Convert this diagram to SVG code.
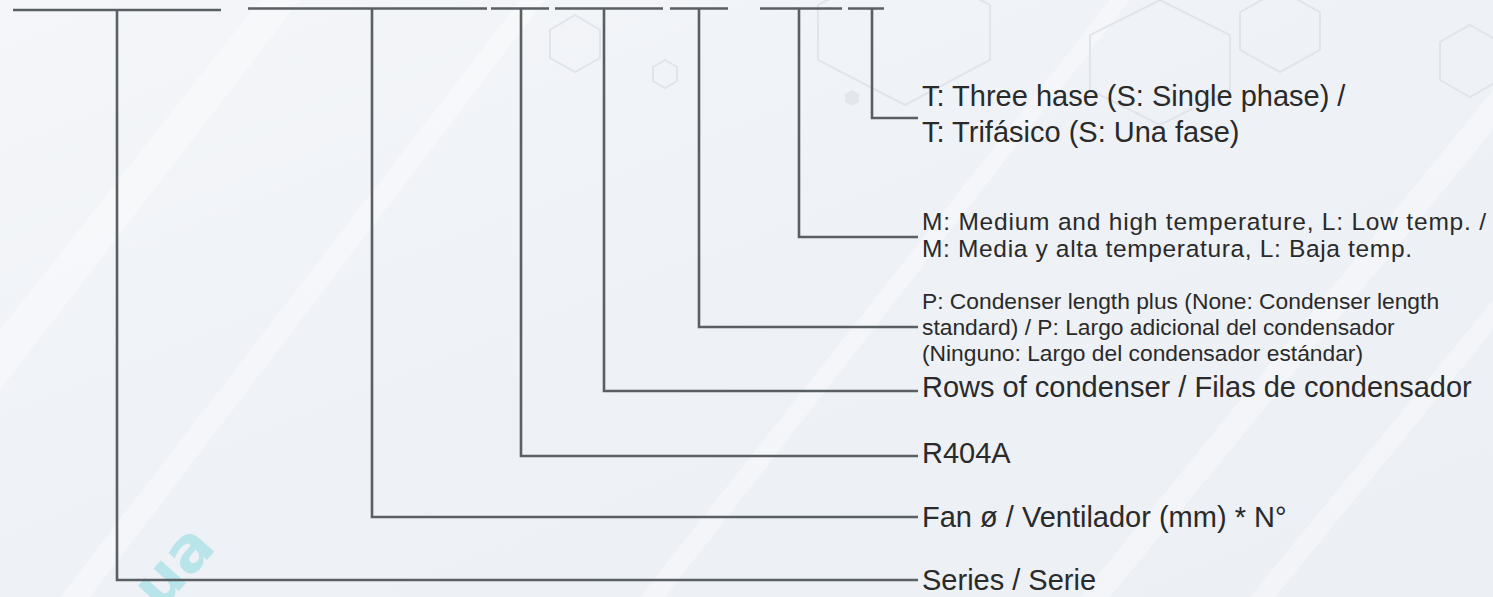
<svg xmlns="http://www.w3.org/2000/svg" width="1493" height="597" viewBox="0 0 1493 597">
<defs>
<linearGradient id="bg" x1="0" y1="0" x2="1" y2="1">
<stop offset="0" stop-color="#f4f6f9"/>
<stop offset="0.5" stop-color="#eef1f6"/>
<stop offset="1" stop-color="#eceff4"/>
</linearGradient>
<style>
.ln{fill:none;stroke:#5a5f64;stroke-width:2.6;stroke-linejoin:miter;stroke-linecap:butt}
.t{font-family:"Liberation Sans",Arial,sans-serif;fill:#2a2a2a}
.big{font-size:29px}
.mid{font-size:24.5px}
.sml{font-size:22.8px}
.hex{fill:none;stroke:#e1e5eb;stroke-width:2}
.streak{fill:#ffffff;opacity:0.35}
</style>
</defs>
<g id="background">
<rect width="1493" height="597" fill="url(#bg)"/>
<polygon class="streak" points="0,330 260,0 300,0 0,390"/>
<polygon class="streak" points="60,597 520,0 545,0 90,597"/>
<polygon class="streak" points="640,597 1110,0 1130,0 665,597"/>
<polygon class="streak" points="1080,597 1493,90 1493,130 1110,597"/>
<polygon class="streak" points="1250,597 1493,300 1493,330 1275,597"/>
<polygon class="hex" points="575,15 600,30 600,58 575,72 550,58 550,30"/>
<polygon class="hex" points="665,60 677,67 677,81 665,88 653,81 653,67"/>
<polygon class="hex" points="905,-40 990,5 990,60 905,105 818,60 818,5"/>
<polygon class="hex" points="1160,0 1230,35 1230,90 1160,125 1090,90 1090,35"/>
<polygon class="hex" points="1280,-10 1320,12 1320,50 1280,72 1240,50 1240,12"/>
<polygon class="hex" points="1470,25 1500,42 1500,80 1470,97 1440,80 1440,42"/>
<polygon points="852,90 859,94 859,102 852,106 845,102 845,94" fill="#e3e6eb"/>
<text x="0" y="0" transform="translate(160,612) rotate(-48)" font-family="'DejaVu Sans',sans-serif" font-weight="bold" font-size="62" fill="#b8e4ea">ua</text>
</g>
<g id="code-bars">
<line class="ln" x1="13" y1="10" x2="221" y2="10"/>
<line class="ln" x1="248" y1="8.5" x2="487" y2="8.5"/>
<line class="ln" x1="491" y1="8.5" x2="549" y2="8.5"/>
<line class="ln" x1="555" y1="8.5" x2="663" y2="8.5"/>
<line class="ln" x1="670" y1="8.5" x2="728" y2="8.5"/>
<line class="ln" x1="760" y1="8.5" x2="842" y2="8.5"/>
<line class="ln" x1="848" y1="8.5" x2="884" y2="8.5"/>
</g>
<g id="connectors">
<polyline class="ln" points="117,10 117,580 918,580"/>
<polyline class="ln" points="372,8.5 372,517 918,517"/>
<polyline class="ln" points="521,8.5 521,456 918,456"/>
<polyline class="ln" points="604,8.5 604,391 918,391"/>
<polyline class="ln" points="699,8.5 699,327 918,327"/>
<polyline class="ln" points="799,8.5 799,237 918,237"/>
<polyline class="ln" points="872,8.5 872,118 918,118"/>
</g>
<g id="node-phase">
<text class="t big" x="922" y="106">T: Three hase (S: Single phase) /</text>
<text class="t big" x="922" y="142">T: Trifásico (S: Una fase)</text>
</g>
<g id="node-temperature">
<text class="t mid" x="922" y="230" textLength="564" lengthAdjust="spacing">M: Medium and high temperature, L: Low temp. /</text>
<text class="t mid" x="922" y="257" textLength="490" lengthAdjust="spacing">M: Media y alta temperatura, L: Baja temp.</text>
</g>
<g id="node-length">
<text class="t sml" x="922" y="309">P: Condenser length plus (None: Condenser length</text>
<text class="t sml" x="922" y="335">standard) / P: Largo adicional del condensador</text>
<text class="t sml" x="922" y="361">(Ninguno: Largo del condensador estándar)</text>
</g>
<g id="node-rows">
<text class="t big" x="922" y="397">Rows of condenser / Filas de condensador</text>
</g>
<g id="node-refrigerant">
<text class="t big" x="922" y="463">R404A</text>
</g>
<g id="node-fan">
<text class="t big" x="922" y="527">Fan ø / Ventilador (mm) * N°</text>
</g>
<g id="node-series">
<text class="t big" x="922" y="590">Series / Serie</text>
</g>
</svg>
